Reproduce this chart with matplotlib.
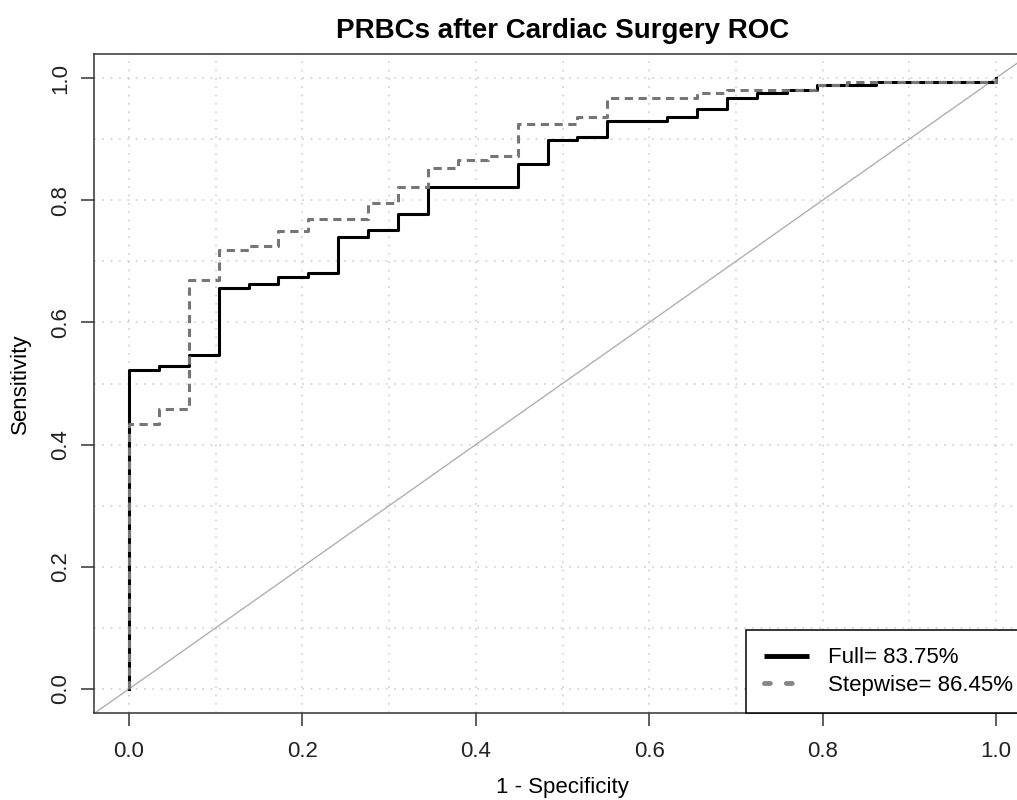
import numpy as np
import matplotlib.pyplot as plt
from matplotlib.lines import Line2D

plt.rcParams['font.family'] = ['Liberation Sans', 'DejaVu Sans']

# ROC curve for the full model (1 - specificity, sensitivity)
full_fpr = [0, 0, 0.0345, 0.0690, 0.1034, 0.1379, 0.1724, 0.2069, 0.2414, 0.2759,
            0.3103, 0.3448, 0.4483, 0.4828, 0.5172, 0.5517, 0.6207, 0.6552, 0.6897,
            0.7241, 0.7586, 0.7931, 0.8621, 1.0]
full_tpr = [0, 0.522, 0.529, 0.547, 0.656, 0.663, 0.675, 0.681, 0.739, 0.751,
            0.777, 0.822, 0.860, 0.898, 0.904, 0.930, 0.937, 0.949, 0.968,
            0.975, 0.980, 0.988, 0.994, 1.0]

# ROC curve for the stepwise model
step_fpr = [0, 0, 0.0345, 0.0690, 0.1034, 0.1379, 0.1724, 0.2069, 0.2759, 0.3103,
            0.3448, 0.3793, 0.4138, 0.4483, 0.5172, 0.5517, 0.6552, 0.6897, 0.7931,
            0.8276, 1.0]
step_tpr = [0, 0.434, 0.459, 0.669, 0.719, 0.725, 0.750, 0.770, 0.796, 0.821,
            0.853, 0.866, 0.872, 0.924, 0.936, 0.968, 0.975, 0.980, 0.988,
            0.994, 1.0]

labels = ['Full= 83.75%', 'Stepwise= 86.45%']
ticks = [0.0, 0.2, 0.4, 0.6, 0.8, 1.0]
grid_pos = np.arange(0, 1.01, 0.1)

W, H = 1017, 800
fig = plt.figure(figsize=(W / 100, H / 100), dpi=100)
ax = fig.add_axes([94.3 / W, 1 - 713.4 / H, (1030.7 - 94.3) / W, (713.4 - 53.6) / H])
ax.set_xlim(-0.04, 1.04)
ax.set_ylim(-0.04, 1.04)

# dotted grid
for g in grid_pos:
    ax.axvline(g, color='#cfcfcf', lw=1.2, ls=(0, (1, 4)), zorder=0)
    ax.axhline(g, color='#cfcfcf', lw=1.2, ls=(0, (1, 4)), zorder=0)

ax.axline((0, 0), (1, 1), color='#b0b0b0', lw=1.0, zorder=1)

ax.plot(full_fpr, full_tpr, drawstyle='steps-post', color='black', lw=2.2, zorder=3)
ax.plot(step_fpr, step_tpr, drawstyle='steps-post', color='#767676', lw=2.2,
        dashes=(2.7, 1.8), zorder=4)

ax.set_xticks(ticks)
ax.set_yticks(ticks)
ax.set_xticklabels(['%.1f' % t for t in ticks])
ax.set_yticklabels(['%.1f' % t for t in ticks], rotation=90, va='center')
ax.tick_params(axis='both', direction='out', length=9.6, width=1.1, color='#333333',
               labelsize=16, labelcolor='#222222')
ax.tick_params(axis='x', pad=10)
ax.tick_params(axis='y', pad=7)
for s in ax.spines.values():
    s.set_linewidth(1.1)
    s.set_color('#333333')

ax.set_title('PRBCs after Cardiac Surgery ROC', fontsize=20, fontweight='bold', pad=11)
ax.set_xlabel('1 - Specificity', fontsize=16, labelpad=11)
ax.set_ylabel('Sensitivity', fontsize=16, labelpad=14)

handles = [Line2D([], [], color='black', lw=3.5, solid_capstyle='butt'),
           Line2D([], [], color='#868686', lw=3.5, dashes=(1.2, 3.3, 1.2, 12),
                  dash_capstyle='round')]
leg = ax.legend(handles, labels, loc='lower right', bbox_to_anchor=(1, 0),
                borderaxespad=0, fontsize=16, fancybox=False, framealpha=1,
                edgecolor='black', borderpad=0.8, labelspacing=0.28,
                handlelength=2.0, handletextpad=0.87)
leg.get_frame().set_linewidth(1.1)

fig.savefig('out.png', dpi=100)
